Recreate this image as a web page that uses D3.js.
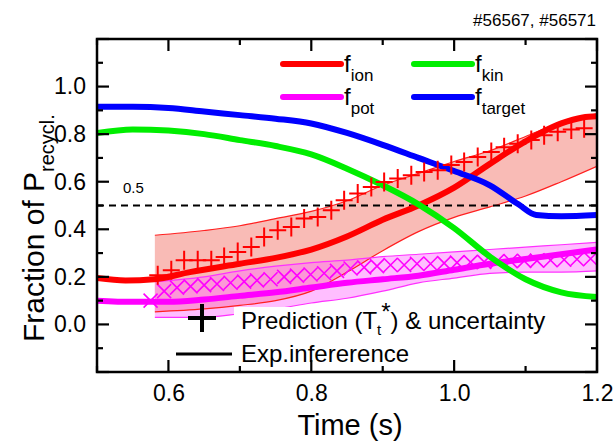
<!DOCTYPE html>
<html><head><meta charset="utf-8">
<script src="https://cdn.jsdelivr.net/npm/d3@7"></script>
<style>html,body{margin:0;padding:0;background:#fff;}svg{display:block;font-family:"Liberation Sans",Arial,sans-serif;}</style>
</head><body><svg id="c" width="614" height="445"></svg>
<script>
// ---- data ----
const tIon = [0.5,0.54,0.58,0.63,0.7,0.75,0.8,0.85,0.9,0.95,1.0,1.05,1.1,1.15,1.18,1.2];
const fIon = [0.195,0.185,0.19,0.22,0.255,0.28,0.315,0.37,0.44,0.5,0.575,0.675,0.77,0.845,0.87,0.875];
const tKin = [0.5,0.55,0.6,0.65,0.7,0.75,0.8,0.85,0.9,0.95,1.0,1.05,1.1,1.15,1.2];
const fKin = [0.805,0.82,0.815,0.8,0.775,0.75,0.715,0.655,0.585,0.505,0.405,0.285,0.19,0.135,0.115];
const tTarget = [0.5,0.55,0.6,0.65,0.7,0.75,0.8,0.85,0.9,0.95,1.0,1.05,1.09,1.115,1.15,1.2];
const fTarget = [0.915,0.915,0.91,0.895,0.88,0.865,0.845,0.805,0.755,0.7,0.645,0.585,0.505,0.46,0.455,0.46];
const tPot = [0.5,0.55,0.6,0.65,0.7,0.75,0.8,0.85,0.9,0.95,1.0,1.05,1.1,1.15,1.2];
const fPot = [0.1,0.095,0.095,0.105,0.12,0.135,0.155,0.175,0.19,0.205,0.23,0.255,0.275,0.295,0.315];

const tIonBand = [0.581,0.65,0.7,0.75,0.8,0.85,0.9,0.95,1.0,1.05,1.1,1.15,1.2];
const ionBandHi = [0.375,0.395,0.415,0.445,0.475,0.52,0.585,0.635,0.685,0.73,0.79,0.85,0.885];
const ionBandLo = [0.053,0.065,0.08,0.1,0.14,0.22,0.31,0.39,0.45,0.494,0.54,0.6,0.665];
const tPotBand = [0.581,0.65,0.7,0.75,0.8,0.85,0.9,0.95,1.0,1.05,1.1,1.15,1.2];
const potBandHi = [0.18,0.2,0.225,0.245,0.26,0.27,0.285,0.295,0.305,0.315,0.325,0.335,0.345];
const potBandLo = [0.03,0.03,0.045,0.065,0.09,0.11,0.14,0.175,0.195,0.215,0.22,0.22,0.225];

const tIonPred = [0.585,0.604,0.622,0.641,0.66,0.678,0.697,0.716,0.734,0.753,0.772,0.79,0.809,0.828,0.846,0.865,0.884,0.902,0.921,0.94,0.958,0.977,0.996,1.014,1.033,1.052,1.07,1.089,1.108,1.126,1.145,1.164,1.182];
const fIonPred = [0.207,0.228,0.27,0.27,0.27,0.284,0.305,0.326,0.368,0.396,0.41,0.445,0.452,0.48,0.522,0.55,0.578,0.599,0.613,0.627,0.641,0.648,0.67,0.683,0.704,0.725,0.745,0.76,0.775,0.795,0.81,0.82,0.825];
const tPotPred = [0.575,0.594,0.612,0.631,0.65,0.668,0.687,0.706,0.724,0.743,0.762,0.78,0.799,0.818,0.836,0.855,0.874,0.892,0.911,0.93,0.948,0.967,0.986,1.004,1.023,1.042,1.06,1.079,1.098,1.116,1.135,1.154,1.172,1.191];
const fPotPred = [0.1,0.14,0.155,0.16,0.165,0.17,0.175,0.18,0.185,0.19,0.2,0.205,0.21,0.215,0.225,0.235,0.24,0.245,0.25,0.25,0.255,0.255,0.258,0.26,0.262,0.263,0.265,0.266,0.267,0.268,0.27,0.272,0.274,0.276];

const refLine = 0.5;
const xTicks = [0.6,0.8,1.0,1.2];
const xMinor = [0.5,0.7,0.9,1.1];
const yTicks = [0.0,0.2,0.4,0.6,0.8,1.0];
const yMinor = [-0.1,0.1,0.3,0.5,0.7,0.9,1.1];
const yMajorAll = [-0.2,0.0,0.2,0.4,0.6,0.8,1.0,1.2];

// ---- layout ----
const L=97, R=597, T=39, B=372;
const x = d3.scaleLinear().domain([0.5,1.2]).range([L,R]);
const y = d3.scaleLinear().domain([-0.2,1.2]).range([B,T]);
const svg = d3.select("#c");
const zip = (ts, vs) => ts.map((t,i)=>[t,vs[i]]);
const line = d3.line().x(d=>x(d[0])).y(d=>y(d[1])).curve(d3.curveMonotoneX);
const area = (ts,hi,lo) => d3.area().x((d,i)=>x(ts[i])).y0((d,i)=>y(lo[i])).y1((d,i)=>y(hi[i])).curve(d3.curveMonotoneX)(ts);

const defs = svg.append("defs");
defs.append("clipPath").attr("id","pc").append("rect").attr("x",L).attr("y",T).attr("width",R-L).attr("height",B-T);
const g = svg.append("g").attr("clip-path","url(#pc)");

// bands
g.append("path").attr("d",area(tIonBand,ionBandHi,ionBandLo)).attr("fill","rgba(244,120,110,0.5)");
g.append("path").attr("d",area(tPotBand,potBandHi,potBandLo)).attr("fill","rgba(255,110,255,0.45)");
[[tIonBand,ionBandHi,"#ff2020"],[tIonBand,ionBandLo,"#ff2020"],[tPotBand,potBandHi,"#ff30ff"],[tPotBand,potBandLo,"#ff30ff"]].forEach(([ts,vs,c])=>{
  g.append("path").attr("d",line(zip(ts,vs))).attr("fill","none").attr("stroke",c).attr("stroke-width",1.2);
});

// dashed reference line
g.append("line").attr("x1",L).attr("x2",R).attr("y1",y(refLine)).attr("y2",y(refLine))
 .attr("stroke","#000").attr("stroke-width",2).attr("stroke-dasharray","7,5");
svg.append("text").attr("x",123).attr("y",y(refLine)-13).attr("font-size",15).text("0.5");

// pot cross markers
g.selectAll("path.xm").data(zip(tPotPred,fPotPred)).enter().append("path").attr("class","xm")
 .attr("transform",d=>`translate(${x(d[0])},${y(d[1])})`)
 .attr("d","M-7,-7L7,7M-7,7L7,-7").attr("stroke","#ff00ff").attr("stroke-width",1.6).attr("fill","none");

// solid lines
const series = [[tPot,fPot,"#ff00ff"],[tIon,fIon,"#ff0000"],[tKin,fKin,"#00ee00"],[tTarget,fTarget,"#0000ff"]];
series.forEach(([ts,vs,c])=>{
  g.append("path").attr("d",line(zip(ts,vs))).attr("fill","none").attr("stroke",c).attr("stroke-width",6).attr("stroke-linecap","round");
});

// ion plus markers
g.selectAll("path.pm").data(zip(tIonPred,fIonPred)).enter().append("path").attr("class","pm")
 .attr("transform",d=>`translate(${x(d[0])},${y(d[1])})`)
 .attr("d","M-8.5,0H8.5M0,-9.5V9.5").attr("stroke","#ff0000").attr("stroke-width",2).attr("fill","none");

// lower legend
svg.append("rect").attr("x",234).attr("y",307).attr("width",356).attr("height",62).attr("fill","#fff");
svg.append("path").attr("d","M188,318H216M202,304V332").attr("stroke","#000").attr("stroke-width",4);
const tp = svg.append("text").attr("x",241).attr("y",329).attr("font-size",24);
tp.append("tspan").text("Prediction (T");
tp.append("tspan").attr("font-size",15).attr("dy",6).text("t");
tp.append("tspan").attr("dy",-15).text("*");
tp.append("tspan").attr("dy",9).text(") & uncertainty");
svg.append("line").attr("x1",176).attr("x2",232).attr("y1",354).attr("y2",354).attr("stroke","#000").attr("stroke-width",3);
svg.append("text").attr("x",241).attr("y",362).attr("font-size",24).text("Exp.infererence");

// upper legend
const leg = [["ion","#ff0000",283,64],["kin","#00ee00",414,64],["pot","#ff00ff",283,97],["target","#0000ff",414,97]];
leg.forEach(([s,c,lx,ly])=>{
  svg.append("line").attr("x1",lx).attr("x2",lx+58).attr("y1",ly).attr("y2",ly).attr("stroke",c).attr("stroke-width",6).attr("stroke-linecap","round");
  const t = svg.append("text").attr("x",lx+61).attr("y",ly+8).attr("font-size",24);
  t.append("tspan").text("f");
  t.append("tspan").attr("font-size",17).attr("dy",9).text(s);
});

// frame & ticks
svg.append("rect").attr("x",L).attr("y",T).attr("width",R-L).attr("height",B-T).attr("fill","none").attr("stroke","#000").attr("stroke-width",2.5);
const tk = svg.append("g").attr("stroke","#000").attr("stroke-width",2.2);
const maj=12, mnr=6;
xTicks.forEach(v=>{tk.append("line").attr("x1",x(v)).attr("x2",x(v)).attr("y1",B).attr("y2",B-maj);tk.append("line").attr("x1",x(v)).attr("x2",x(v)).attr("y1",T).attr("y2",T+maj);});
xMinor.forEach(v=>{tk.append("line").attr("x1",x(v)).attr("x2",x(v)).attr("y1",B).attr("y2",B-mnr);tk.append("line").attr("x1",x(v)).attr("x2",x(v)).attr("y1",T).attr("y2",T+mnr);});
yMajorAll.forEach(v=>{tk.append("line").attr("y1",y(v)).attr("y2",y(v)).attr("x1",L).attr("x2",L+maj);tk.append("line").attr("y1",y(v)).attr("y2",y(v)).attr("x1",R).attr("x2",R-maj);});
yMinor.forEach(v=>{tk.append("line").attr("y1",y(v)).attr("y2",y(v)).attr("x1",L).attr("x2",L+mnr);tk.append("line").attr("y1",y(v)).attr("y2",y(v)).attr("x1",R).attr("x2",R-mnr);});

// tick labels via axes (no domain/lines)
const xa = svg.append("g").attr("transform",`translate(0,${B})`).call(d3.axisBottom(x).tickValues(xTicks).tickFormat(d3.format(".1f")).tickSize(0).tickPadding(13));
xa.select(".domain").remove();
xa.selectAll("text").attr("font-size",23).attr("font-family","Liberation Sans, Arial, sans-serif").attr("fill","#000");
const ya = svg.append("g").attr("transform",`translate(${L},0)`).call(d3.axisLeft(y).tickValues(yTicks).tickFormat(d3.format(".1f")).tickSize(0).tickPadding(11));
ya.select(".domain").remove();
ya.selectAll("text").attr("font-size",23).attr("font-family","Liberation Sans, Arial, sans-serif").attr("fill","#000");

// titles
svg.append("text").attr("x",350).attr("y",435).attr("text-anchor","middle").attr("font-size",29).text("Time (s)");
const yt = svg.append("text").attr("transform","translate(44,342) rotate(-90)").attr("font-size",30);
yt.append("tspan").text("Fraction of P");
yt.append("tspan").attr("font-size",20).attr("dy",10).text("recycl.");
svg.append("text").attr("x",596).attr("y",26).attr("text-anchor","end").attr("font-size",17).text("#56567, #56571");
</script></body></html>
